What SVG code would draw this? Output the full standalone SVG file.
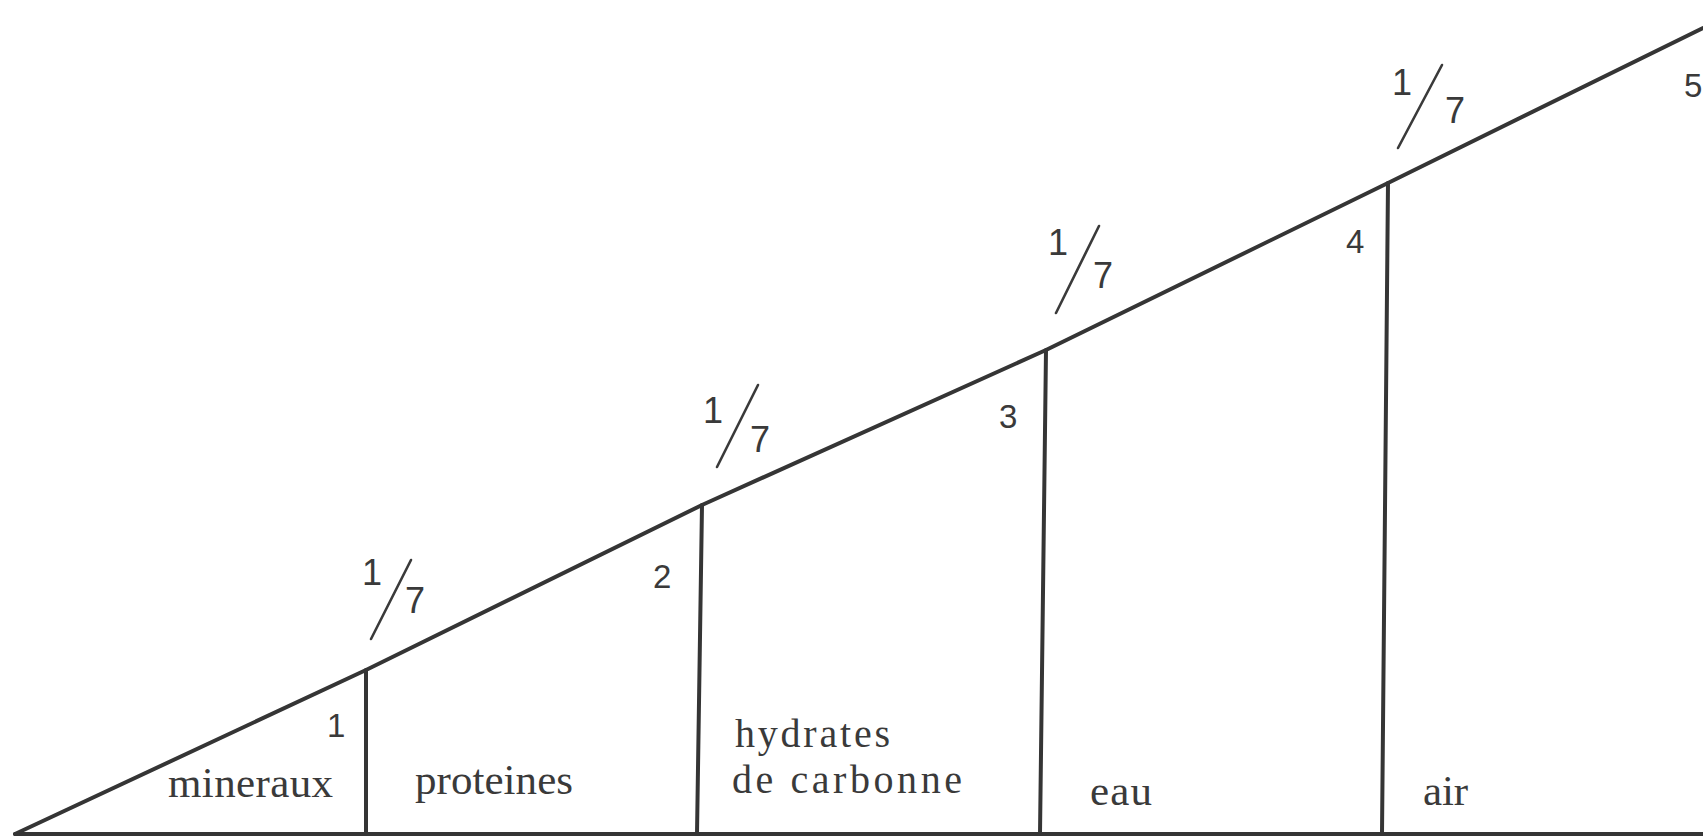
<svg xmlns="http://www.w3.org/2000/svg" width="1703" height="836" viewBox="0 0 1703 836">
<style>
.ln{stroke:#353535;stroke-width:4;fill:none;stroke-linecap:round;stroke-linejoin:round}
.sl{stroke:#3a3a3a;stroke-width:2.6;fill:none;stroke-linecap:round}
.lab{font-family:"Liberation Serif",serif;font-size:43px;fill:#3a3a3a}
.lab2{font-family:"Liberation Serif",serif;font-size:40px;fill:#3a3a3a}
.dig{font-family:"Liberation Sans",sans-serif;font-size:33px;fill:#3a3a3a}
.fr{font-family:"Liberation Sans",sans-serif;font-size:36px;fill:#3a3a3a}
</style>
<rect width="1703" height="836" fill="#ffffff"/>
<g id="connectors">
<line class="ln" x1="15" y1="834" x2="1703" y2="834"/>
<polyline class="ln" points="15,834 366,670 702,505 1046,350 1388,183 1703,28"/>
<line class="ln" x1="366" y1="670" x2="366" y2="834"/>
<line class="ln" x1="702" y1="505" x2="697" y2="834"/>
<line class="ln" x1="1046" y1="350" x2="1040" y2="834"/>
<line class="ln" x1="1388" y1="183" x2="1382" y2="834"/>
</g>
<g id="mineraux">
<text class="lab" x="168" y="797" textLength="165">mineraux</text>
<text class="dig" x="327" y="737">1</text>
</g>
<g id="proteines">
<text class="lab" x="415" y="794" textLength="158">proteines</text>
<text class="dig" x="653" y="588">2</text>
</g>
<g id="hydrates">
<text class="lab2" x="735" y="747" textLength="155">hydrates</text>
<text class="lab2" x="732" y="793" textLength="230">de carbonne</text>
<text class="dig" x="999" y="428">3</text>
</g>
<g id="eau">
<text class="lab" x="1090" y="805" textLength="62">eau</text>
<text class="dig" x="1346" y="253">4</text>
</g>
<g id="air">
<text class="lab" x="1423" y="805" textLength="45">air</text>
<text class="dig" x="1684" y="97">5</text>
</g>
<g id="frac1">
<line class="sl" x1="371" y1="639" x2="411" y2="560"/>
<text class="fr" x="362" y="585">1</text>
<text class="fr" x="405" y="613">7</text>
</g>
<g id="frac2">
<line class="sl" x1="717" y1="467" x2="758" y2="385"/>
<text class="fr" x="703" y="423">1</text>
<text class="fr" x="750" y="452">7</text>
</g>
<g id="frac3">
<line class="sl" x1="1056" y1="313" x2="1099" y2="226"/>
<text class="fr" x="1048" y="255">1</text>
<text class="fr" x="1093" y="288">7</text>
</g>
<g id="frac4">
<line class="sl" x1="1398" y1="148" x2="1442" y2="65"/>
<text class="fr" x="1392" y="95">1</text>
<text class="fr" x="1445" y="123">7</text>
</g>
</svg>
